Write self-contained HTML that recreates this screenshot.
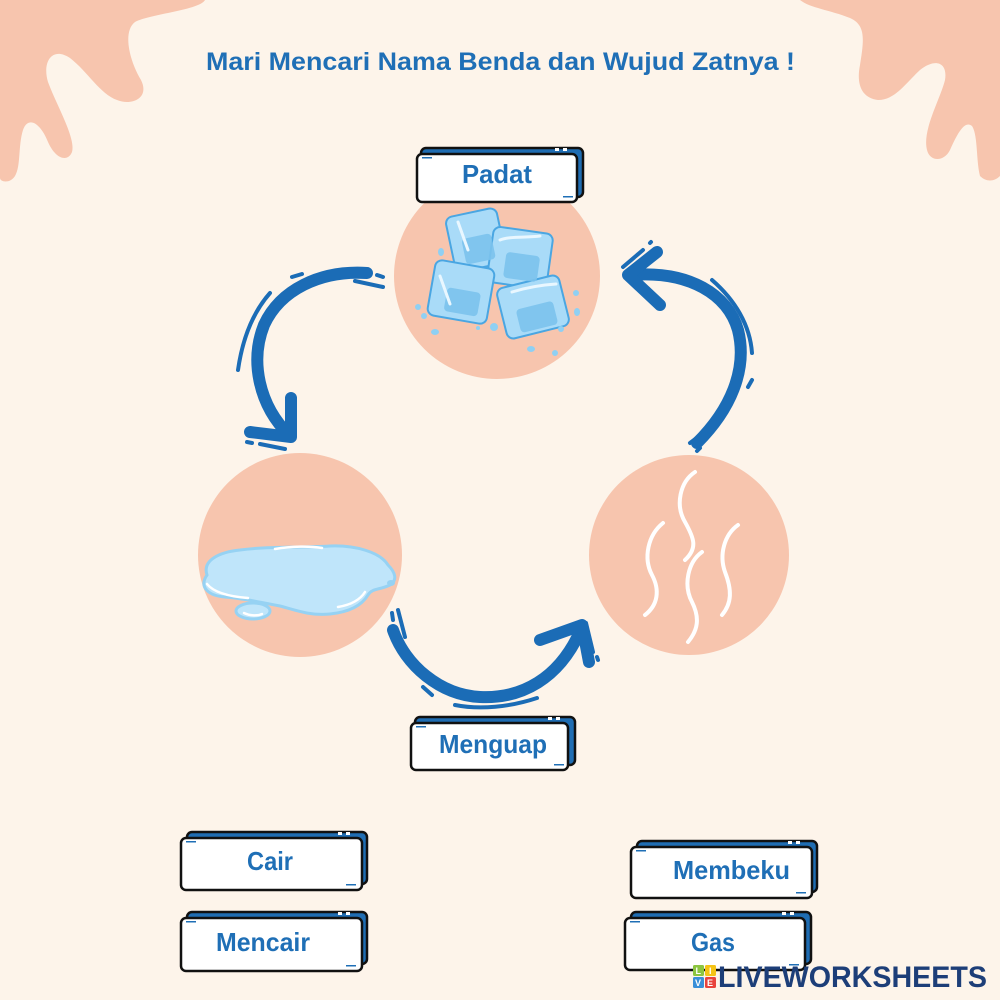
<!DOCTYPE html>
<html><head><meta charset="utf-8"><style>
html,body{margin:0;padding:0;background:#fdf4ea;}
svg{display:block;}
text{font-family:"Liberation Sans",sans-serif;font-weight:bold;}
</style></head><body>
<svg width="1000" height="1000" viewBox="0 0 1000 1000" xmlns="http://www.w3.org/2000/svg">
<rect width="1000" height="1000" fill="#fdf4ea"/>
<!-- corner blobs -->
<path d="M0,0 L205,0 C200,10 150,14 135,22 C122,32 130,62 141,80 C150,98 132,106 117,100 C100,94 88,72 70,58 C52,46 42,62 48,82 C56,104 76,138 72,152 C68,162 56,160 48,142 C40,122 28,116 23,130 C18,146 21,166 15,176 C10,184 0,182 0,178 Z" fill="#f7c5ae"/>
<path d="M800,0 L1000,0 L1000,176 C994,182 986,182 980,176 C976,160 978,135 972,126 C965,120 958,132 950,150 C944,162 930,162 927,150 C922,130 940,100 945,80 C948,62 935,58 920,70 C905,84 895,100 878,100 C862,98 856,85 860,65 C864,40 866,25 850,18 C830,10 810,8 800,0 Z" fill="#f7c5ae"/>
<!-- circles -->
<circle cx="497" cy="276" r="103" fill="#f7c5ae"/>
<circle cx="300" cy="555" r="102" fill="#f7c5ae"/>
<circle cx="689" cy="555" r="100" fill="#f7c5ae"/>
<!-- title -->
<text x="206" y="70" font-size="25" fill="#1f6fb6" textLength="589" lengthAdjust="spacingAndGlyphs">Mari Mencari Nama Benda dan Wujud Zatnya !</text>
<!-- arrows -->
<g fill="none" stroke="#1b6cb6" stroke-linecap="round" stroke-linejoin="round">
  <path d="M367,273 C320,270 280,290 264,325 C250,360 258,405 290,436" stroke-width="12"/>
  <path d="M291,398 L291,437 L250,432" stroke-width="12"/>
  <path d="M270,293 C255,310 243,335 238,370" stroke-width="4"/>
  <path d="M292,277 L302,274" stroke-width="4"/>
  <path d="M355,281 L383,287" stroke-width="4"/>
  <path d="M377,275 L383,277" stroke-width="4"/>
  <path d="M247,442 L252,443" stroke-width="4"/>
  <path d="M260,444 L285,449" stroke-width="4"/>

  <path d="M393,630 C405,665 440,695 480,697 C520,699 560,680 582,627" stroke-width="12"/>
  <path d="M540,640 L582,625 L589,662" stroke-width="12"/>
  <path d="M392,613 L393,620" stroke-width="4"/>
  <path d="M398,610 L405,637" stroke-width="4"/>
  <path d="M423,687 L432,695" stroke-width="4"/>
  <path d="M455,705 C480,710 510,707 537,698" stroke-width="4"/>
  <path d="M586,623 L593,652" stroke-width="4"/>
  <path d="M597,657 L598,660" stroke-width="4"/>

  <path d="M697,443 C730,410 748,370 738,330 C728,295 690,270 630,275" stroke-width="12"/>
  <path d="M657,252 L628,275 L660,305" stroke-width="12"/>
  <path d="M712,280 C735,300 750,325 752,353" stroke-width="4"/>
  <path d="M752,380 L748,387" stroke-width="4"/>
  <path d="M710,428 L690,443" stroke-width="4"/>
  <path d="M700,448 L697,451" stroke-width="4"/>
  <path d="M643,250 L623,267" stroke-width="4"/>
  <path d="M650,243 L651,242" stroke-width="4"/>
</g>
<!-- ice cubes -->
<g stroke="#4aa6e2" stroke-width="2" stroke-linejoin="round">
  <rect x="-26" y="-28" width="52" height="56" rx="7" fill="#a9dbf8" transform="translate(476,240) rotate(-12)"/>
  <rect x="-30" y="-28" width="60" height="56" rx="7" fill="#a9dbf8" transform="translate(520,258) rotate(8)"/>
  <rect x="-30" y="-28" width="60" height="56" rx="7" fill="#a9dbf8" transform="translate(461,292) rotate(10)"/>
  <rect x="-32" y="-26" width="64" height="52" rx="7" fill="#a9dbf8" transform="translate(533,307) rotate(-14)"/>
</g>
<g fill="#7cc3ee" opacity="0.9">
  <rect x="-15" y="-10" width="30" height="26" rx="4" transform="translate(478,246) rotate(-12)"/>
  <rect x="-17" y="-10" width="34" height="26" rx="4" transform="translate(522,264) rotate(8)"/>
  <rect x="-17" y="-8" width="34" height="24" rx="4" transform="translate(463,298) rotate(10)"/>
  <rect x="-19" y="-8" width="38" height="24" rx="4" transform="translate(536,313) rotate(-14)"/>
</g>
<g fill="none" stroke="#e9f7ff" stroke-width="3" stroke-linecap="round">
  <path d="M458,222 L468,250"/><path d="M500,240 C510,236 525,238 540,236"/>
  <path d="M440,276 L450,304"/><path d="M512,292 C525,288 540,285 556,284"/>
</g>
<g fill="#8fd0f3">
  <ellipse cx="441" cy="252" rx="3" ry="4"/><ellipse cx="418" cy="307" rx="3" ry="3"/>
  <ellipse cx="424" cy="316" rx="3" ry="3"/><ellipse cx="435" cy="332" rx="4" ry="3"/>
  <ellipse cx="494" cy="327" rx="4" ry="4"/><ellipse cx="531" cy="349" rx="4" ry="3"/>
  <ellipse cx="555" cy="353" rx="3" ry="3"/><ellipse cx="576" cy="293" rx="3" ry="3"/>
  <ellipse cx="577" cy="312" rx="3" ry="4"/><ellipse cx="561" cy="329" rx="3" ry="3"/>
  <ellipse cx="478" cy="328" rx="2" ry="2"/>
</g>
<!-- puddle -->
<path d="M207,575 C202,560 220,552 240,550 C270,546 300,548 330,546 C355,545 380,552 388,565 C395,572 398,580 390,585 C380,590 372,588 368,595 C362,605 350,612 330,614 C310,616 295,610 280,606 C260,602 240,598 225,597 C210,596 198,588 207,575 Z" fill="#bfe5fa" stroke="#96d2f3" stroke-width="3"/>
<ellipse cx="253" cy="611" rx="17" ry="8" fill="#bfe5fa" stroke="#96d2f3" stroke-width="3"/>
<ellipse cx="391" cy="583" rx="4" ry="3" fill="#96d2f3"/>
<g fill="none" stroke="#ffffff" stroke-width="2.5" stroke-linecap="round">
  <path d="M207,584 C215,594 235,597 248,598"/>
  <path d="M275,549 C292,546 310,546 322,548"/>
  <path d="M338,607 C350,605 360,600 365,592"/>
  <path d="M244,613 C250,616 258,616 262,614"/>
</g>
<!-- steam -->
<g fill="none" stroke="#ffffff" stroke-width="4" stroke-linecap="round">
  <path d="M695,472 C680,482 675,505 685,522 C694,538 698,548 685,560"/>
  <path d="M702,552 C688,562 683,585 692,602 C700,618 698,630 688,642"/>
  <path d="M663,523 C648,535 643,558 652,575 C660,590 658,605 645,615"/>
  <path d="M738,525 C724,535 719,555 725,572 C732,590 732,603 722,615"/>
</g>
<!-- labels -->
<g stroke="#111" stroke-width="2.5">
  <rect x="421" y="148" width="162" height="49" rx="5" fill="#1f6db3"/>
  <rect x="417" y="154" width="160" height="48" rx="5" fill="#ffffff"/>
  <rect x="415" y="717" width="160" height="48" rx="5" fill="#1f6db3"/>
  <rect x="411" y="723" width="157" height="47" rx="5" fill="#ffffff"/>
  <rect x="187" y="832" width="180" height="52" rx="5" fill="#1f6db3"/>
  <rect x="181" y="838" width="181" height="52" rx="5" fill="#ffffff"/>
  <rect x="187" y="912" width="180" height="52" rx="5" fill="#1f6db3"/>
  <rect x="181" y="918" width="181" height="53" rx="5" fill="#ffffff"/>
  <rect x="637" y="841" width="180" height="51" rx="5" fill="#1f6db3"/>
  <rect x="631" y="847" width="181" height="51" rx="5" fill="#ffffff"/>
  <rect x="631" y="912" width="180" height="52" rx="5" fill="#1f6db3"/>
  <rect x="625" y="918" width="180" height="52" rx="5" fill="#ffffff"/>
</g>
<g fill="#ffffff">
  <rect x="555" y="148" width="4" height="3"/><rect x="563" y="148" width="4" height="3"/>
  <rect x="548" y="717" width="4" height="3"/><rect x="556" y="717" width="4" height="3"/>
  <rect x="338" y="832" width="4" height="3"/><rect x="346" y="832" width="4" height="3"/>
  <rect x="338" y="912" width="4" height="3"/><rect x="346" y="912" width="4" height="3"/>
  <rect x="788" y="841" width="4" height="3"/><rect x="796" y="841" width="4" height="3"/>
  <rect x="782" y="912" width="4" height="3"/><rect x="790" y="912" width="4" height="3"/>
</g>
<g fill="#1f6fb6">
  <rect x="422" y="157" width="10" height="1.5"/><rect x="563" y="196" width="10" height="1.5"/>
  <rect x="416" y="726" width="10" height="1.5"/><rect x="554" y="764" width="10" height="1.5"/>
  <rect x="186" y="841" width="10" height="1.5"/><rect x="346" y="884" width="10" height="1.5"/>
  <rect x="186" y="921" width="10" height="1.5"/><rect x="346" y="965" width="10" height="1.5"/>
  <rect x="636" y="850" width="10" height="1.5"/><rect x="796" y="892" width="10" height="1.5"/>
  <rect x="630" y="921" width="10" height="1.5"/><rect x="789" y="964" width="10" height="1.5"/>
</g>
<g fill="#1f6fb6" font-size="26">
  <text x="462" y="183" textLength="70" lengthAdjust="spacingAndGlyphs">Padat</text>
  <text x="439" y="753" textLength="108" lengthAdjust="spacingAndGlyphs">Menguap</text>
  <text x="247" y="870" textLength="46" lengthAdjust="spacingAndGlyphs">Cair</text>
  <text x="216" y="951" textLength="94" lengthAdjust="spacingAndGlyphs">Mencair</text>
  <text x="673" y="879" textLength="117" lengthAdjust="spacingAndGlyphs">Membeku</text>
  <text x="691" y="951" textLength="44" lengthAdjust="spacingAndGlyphs">Gas</text>
</g>
<!-- logo -->
<rect x="693" y="965" width="11" height="11" rx="1.5" fill="#8cc540"/>
<rect x="705" y="965" width="11" height="11" rx="1.5" fill="#f5c315"/>
<rect x="693" y="977" width="11" height="11" rx="1.5" fill="#3a8fd8"/>
<rect x="705" y="977" width="11" height="11" rx="1.5" fill="#e8433d"/>
<g fill="#ffffff" font-size="9">
  <text x="695.5" y="974">L</text><text x="709" y="974">I</text>
  <text x="695" y="986">V</text><text x="707" y="986">E</text>
</g>
<text x="718" y="987" font-size="30" fill="#1d3e78" textLength="269" lengthAdjust="spacingAndGlyphs">LIVEWORKSHEETS</text>
</svg>
</body></html>
